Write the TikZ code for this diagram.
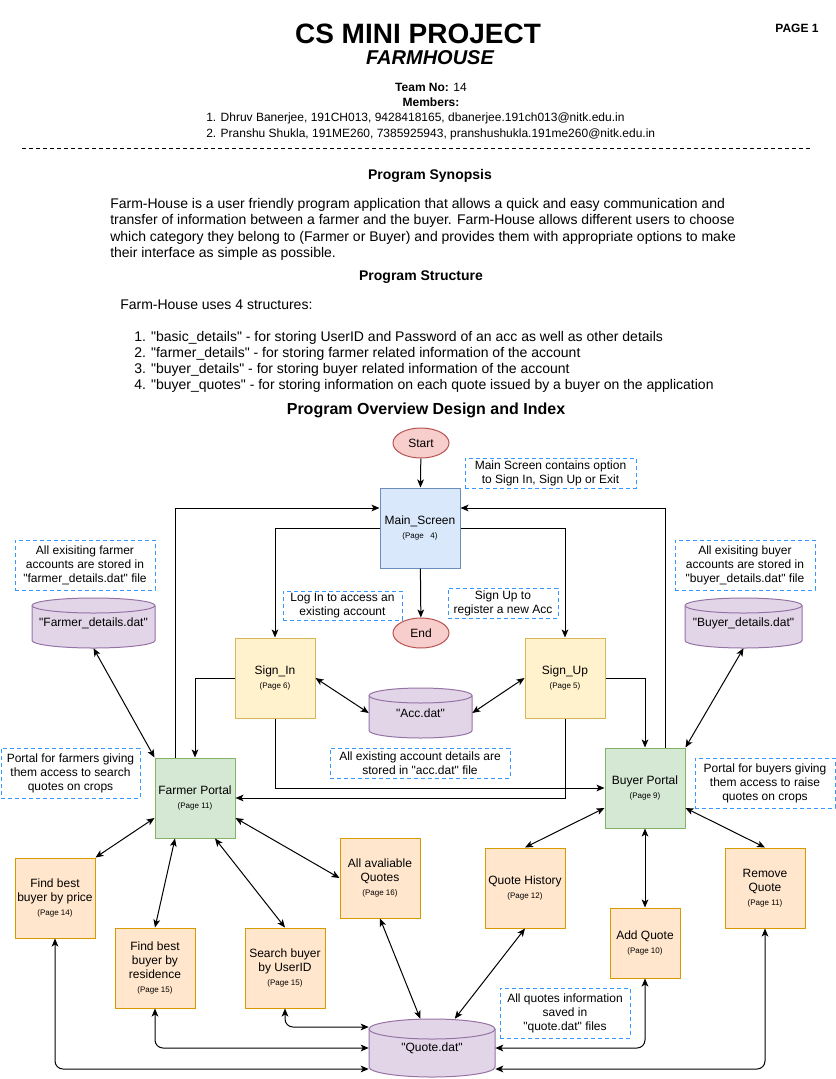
\documentclass[tikz,border=0pt]{standalone}
\usepackage{fontspec}
\setmainfont{Liberation Sans}[Ligatures=TeXOff]
\usepackage{tikz}
\usetikzlibrary{positioning}
\usetikzlibrary{shapes.geometric}
\usetikzlibrary{arrows.meta}

\definecolor{redfill}{HTML}{F8CECC}
\definecolor{reddraw}{HTML}{B85450}
\definecolor{bluefill}{HTML}{DAE8FC}
\definecolor{bluedraw}{HTML}{6C8EBF}
\definecolor{yellowfill}{HTML}{FFF2CC}
\definecolor{yellowdraw}{HTML}{D6B656}
\definecolor{greenfill}{HTML}{D5E8D4}
\definecolor{greendraw}{HTML}{82B366}
\definecolor{orangefill}{HTML}{FFE6CC}
\definecolor{orangedraw}{HTML}{D79B00}
\definecolor{purplefill}{HTML}{E1D5E7}
\definecolor{purpledraw}{HTML}{9673A6}
\definecolor{notedraw}{HTML}{3399FF}

\newcommand{\boxpage}[1]{{\fontsize{6}{7}\selectfont(Page #1)}}
\newcommand{\datafile}[7]{%
  \filldraw[dbshape] (#2-#4,#3-#5+#6) -- (#2-#4,#3+#5-#6)
    arc[start angle=180, end angle=360, x radius=#4*0.75pt, y radius=#6*0.75pt]
    -- (#2+#4,#3-#5+#6)
    arc[start angle=0, end angle=180, x radius=#4*0.75pt, y radius=#6*0.75pt] -- cycle;
  \draw[dbshape] (#2-#4,#3-#5+#6)
    arc[start angle=180, end angle=360, x radius=#4*0.75pt, y radius=#6*0.75pt];
  \node[dbtext, minimum width=#4*1.5pt, minimum height=#5*1.5pt] (#1) at (#2,#3) {#7};
}

\begin{document}
\begin{tikzpicture}[x=0.75pt, y=-0.75pt,
    txt/.style={font=\fontsize{9}{10.5}\selectfont, align=center, inner sep=0pt},
    body/.style={font=\fontsize{10.5}{12.3}\selectfont, align=left, inner sep=0pt, anchor=west},
    heading/.style={font=\fontsize{10.5}{12.3}\selectfont\bfseries, inner sep=0pt},
    flowbox/.style={txt, draw, line width=0.75pt, minimum width=60pt, minimum height=60pt},
    mainbox/.style={flowbox, fill=bluefill, draw=bluedraw},
    signbox/.style={flowbox, fill=yellowfill, draw=yellowdraw},
    portal/.style={flowbox, fill=greenfill, draw=greendraw},
    task/.style={flowbox, fill=orangefill, draw=orangedraw},
    startstop/.style={txt, ellipse, fill=redfill, draw=reddraw, line width=0.75pt,
      minimum width=42pt, minimum height=22.5pt},
    note/.style 2 args={txt, draw=notedraw, line width=0.75pt, dash pattern=on 3pt off 2.25pt,
      minimum width=#1*0.75pt, minimum height=#2*0.75pt},
    dbshape/.style={fill=purplefill, draw=purpledraw, line width=0.75pt},
    dbtext/.style={txt},
    arr/.style={-{Stealth[length=6pt,width=5pt,inset=1.5pt]}, line width=0.75pt},
    biarr/.style={{Stealth[length=6pt,width=5pt,inset=1.5pt]}-{Stealth[length=6pt,width=5pt,inset=1.5pt]}, line width=0.75pt}]
  \fill[white] (0,0) rectangle (836,1079);
  \useasboundingbox (0,0) rectangle (836,1079);

  % header
  \node[font=\fontsize{21}{24}\selectfont\bfseries, inner sep=0pt] (title) at (418,34) {CS MINI PROJECT};
  \node[font=\fontsize{15}{18}\selectfont\bfseries\itshape, inner sep=0pt] (subtitle) at (430,57.5) {FARMHOUSE};
  \node[font=\fontsize{9}{10.5}\selectfont\bfseries, inner sep=0pt] (pagelabel) at (797,28) {PAGE 1};
  \node[txt] (team) at (431,87) {\textbf{Team No:} 14};
  \node[txt] (members) at (431,102) {\textbf{Members:}};
  \node[txt, anchor=west] (memone) at (206,118) {1. Dhruv Banerjee, 191CH013, 9428418165, dbanerjee.191ch013@nitk.edu.in};
  \node[txt, anchor=west] (memtwo) at (206,134) {2. Pranshu Shukla, 191ME260, 7385925943, pranshushukla.191me260@nitk.edu.in};
  \coordinate (sepleft) at (22,148);
  \coordinate (sepright) at (812,148);
  \draw[line width=0.75pt, dash pattern=on 3pt off 2.25pt] (sepleft) -- (sepright);

  \node[heading] (synhead) at (430,176) {Program Synopsis};
  \node[body] (synopsis) at (110,229.5) {Farm-House is a user friendly program application that allows a quick and easy communication and\\
    transfer of information between a farmer and the buyer. Farm-House allows different users to choose\\
    which category they belong to (Farmer or Buyer) and provides them with appropriate options to make\\
    their interface as simple as possible.};
  \node[heading] (structhead) at (421,277) {Program Structure};
  \node[body] (structintro) at (120,305) {Farm-House uses 4 structures:};
  \node[body, font=\fontsize{10.5}{12}\selectfont] (structlist) at (134,362) {1. "basic\_details" - for storing UserID and Password of an acc as well as other details\\
    2. "farmer\_details" - for storing farmer related information of the account\\
    3. "buyer\_details" - for storing buyer related information of the account\\
    4. "buyer\_quotes" - for storing information on each quote issued by a buyer on the application};
  \node[font=\fontsize{12}{14}\selectfont\bfseries, inner sep=0pt] (overview) at (426,410) {Program Overview Design and Index};

  % flow
  \node[startstop] (start) at (421,443) {Start};
  \node[mainbox] (main) at (420,528) {Main\_Screen\\\boxpage{~ 4}};
  \node[startstop] (finish) at (421,633) {End};
  \node[signbox] (signin) at (275,678) {Sign\_In\\\boxpage{6}};
  \node[signbox] (signup) at (565,678) {Sign\_Up\\\boxpage{5}};
  \node[portal] (farmer) at (195,798) {Farmer Portal\\\boxpage{11}};
  \node[portal] (buyer) at (645,788) {Buyer Portal\\\boxpage{9}};

  \node[task] (bestprice) at (55,898) {Find best\\buyer by price\\\boxpage{14}};
  \node[task] (residence) at (155,968) {Find best\\buyer by\\residence\\\boxpage{15}};
  \node[task] (search) at (285,968) {Search buyer\\by UserID\\\boxpage{15}};
  \node[task] (allquotes) at (380,878) {All avaliable\\Quotes\\\boxpage{16}};
  \node[task] (history) at (525,888) {Quote History\\\boxpage{12}};
  \node[task, minimum width=52.5pt, minimum height=52.5pt] (addquote) at (645,943) {Add Quote\\\boxpage{10}};
  \node[task] (remove) at (765,888) {Remove\\Quote\\\boxpage{11}};

  \datafile{farmerdat}{93.5}{623}{61.5}{25}{7.5}{"Farmer\_details.dat"}
  \datafile{buyerdat}{743.5}{623}{58.5}{25}{7.5}{"Buyer\_details.dat"}
  \datafile{accdat}{420.5}{713}{51.5}{25}{7.5}{"Acc.dat"}
  \datafile{quotedat}{432}{1048}{63}{29}{10}{"Quote.dat"}

  % notes
  \node[note={171}{30}] (mainnote) at (550.5,473) {Main Screen contains option\\to Sign In, Sign Up or Exit};
  \node[note={119}{29}] (loginnote) at (342.5,605.5) {Log In to access an\\existing account};
  \node[note={110}{30}] (signupnote) at (503,603) {Sign Up to\\register a new Acc};
  \node[note={140}{50}] (farmerdatnote) at (85,565) {All exisiting farmer\\accounts are stored in\\"farmer\_details.dat" file};
  \node[note={140}{50}] (buyerdatnote) at (745,565) {All exisiting buyer\\accounts are stored in\\"buyer\_details.dat" file};
  \node[note={180}{30}] (accnote) at (420,763) {All existing account details are\\stored in "acc.dat" file};
  \node[note={139}{50}] (farmernote) at (70.5,773) {Portal for farmers giving\\them access to search\\quotes on crops};
  \node[note={140}{50}] (buyernote) at (765,783) {Portal for buyers giving\\them access to raise\\quotes on crops};
  \node[note={130}{50}] (quotenote) at (565,1013) {All quotes information\\saved in\\"quote.dat" files};

  % connectors
  \draw[arr] (start) -- (main);
  \draw[arr] (main) -- (finish);
  \draw[arr] (main.west) -| (signin.north);
  \draw[arr] (main.east) -| (signup.north);
  \draw[arr] (signin.west) -| (farmer.north);
  \draw[arr] (signin.south) |- (buyer.west);
  \draw[arr] (signup.east) -| (buyer.north);
  \draw[arr] (signup.south) |- (farmer.east);
  \draw[arr] ([xshift=-15pt]farmer.north) |- ([yshift=15pt]main.west);
  \draw[arr] ([xshift=15pt]buyer.north) |- ([yshift=15pt]main.east);
  \draw[biarr] (signin.east) -- (accdat.west);
  \draw[biarr] (signup.west) -- (accdat.east);
  \draw[biarr] (farmerdat.south) -- (farmer.north west);
  \draw[biarr] (buyerdat.south) -- (buyer.north east);

  \draw[biarr] ([yshift=-15pt]farmer.west) -- (bestprice.north east);
  \draw[biarr] ([xshift=-15pt]farmer.south) -- (residence.north);
  \draw[biarr] ([xshift=15pt]farmer.south) -- (search.north);
  \draw[biarr] ([yshift=-15pt]farmer.east) -- (allquotes.west);
  \draw[biarr] ([yshift=-15pt]buyer.west) -- (history.north);
  \draw[biarr] (buyer.south) -- (addquote.north);
  \draw[biarr] ([yshift=-15pt]buyer.east) -- (remove.north);
  \draw[biarr] (allquotes.south) -- (quotedat);
  \draw[biarr] (history.south) -- (quotedat);

  \draw[biarr, rounded corners=6pt] (search.south) |- ([yshift=15.75pt]quotedat.west);
  \draw[biarr, rounded corners=6pt] (residence.south) |- (quotedat.west);
  \draw[biarr, rounded corners=6pt] (bestprice.south) |- ([yshift=-15.75pt]quotedat.west);
  \draw[biarr, rounded corners=6pt] (addquote.south) |- (quotedat.east);
  \draw[biarr, rounded corners=6pt] (remove.south) |- ([yshift=-15.75pt]quotedat.east);
\end{tikzpicture}
\end{document}
